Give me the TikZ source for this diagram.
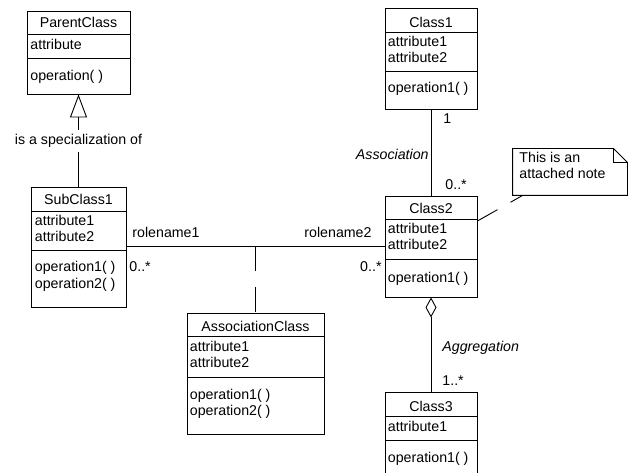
\documentclass[tikz,border=0pt]{standalone}
\usepackage{fontspec}
\setmainfont{Liberation Sans}
\usetikzlibrary{arrows.meta}

\begin{document}
\begin{tikzpicture}[x=1pt,y=-1pt,line width=0.9pt,
  font=\fontsize{14.2}{16}\selectfont,
  classbox/.style={draw,inner sep=0},
  txt/.style={anchor=base west,inner sep=0},
  title/.style={anchor=base,inner sep=0},
  lbl/.style={inner sep=0}]
\useasboundingbox (0,0) rectangle (632,473);
\clip (0,0) rectangle (632,473);

% ParentClass
\node[classbox, minimum width=103, minimum height=83] (parent) at (78.5,52.5) {};
\draw (27,34) -- (130,34);
\draw (27,58) -- (130,58);
\node[title] (parentname) at (78.5,28) {ParentClass};
\node[txt] (parentattr) at (30,50) {attribute};
\node[txt] (parentop) at (30,81) {operation( )};

% SubClass1
\node[classbox, minimum width=95, minimum height=120] (sub) at (78.5,247) {};
\draw (31,211) -- (126,211);
\draw (31,250) -- (126,250);
\node[title] (subname) at (78.5,205) {SubClass1};
\node[txt] (subattra) at (34.5,226) {attribute1};
\node[txt] (subattrb) at (34.5,242) {attribute2};
\node[txt] (subopa) at (34.5,272) {operation1( )};
\node[txt] (subopb) at (34.5,288) {operation2( )};

% Class1
\node[classbox, minimum width=92, minimum height=101] (cone) at (431,58.5) {};
\draw (385,32) -- (477,32);
\draw (385,71) -- (477,71);
\node[title] (onename) at (431,28) {Class1};
\node[txt] (oneattra) at (387.5,47) {attribute1};
\node[txt] (oneattrb) at (387.5,63) {attribute2};
\node[txt] (oneop) at (387.5,93) {operation1( )};

% Class2
\node[classbox, minimum width=92, minimum height=101] (ctwo) at (431,246.5) {};
\draw (385,219) -- (477,219);
\draw (385,259) -- (477,259);
\node[title] (twoname) at (431,214) {Class2};
\node[txt] (twoattra) at (387.5,234) {attribute1};
\node[txt] (twoattrb) at (387.5,250) {attribute2};
\node[txt] (twoop) at (387.5,282) {operation1( )};

% Class3
\node[classbox, minimum width=92, minimum height=88] (cthree) at (431,436) {};
\draw (385,416) -- (477,416);
\draw (385,440) -- (477,440);
\node[title] (threename) at (431,411) {Class3};
\node[txt] (threeattr) at (387.5,431) {attribute1};
\node[txt] (threeop) at (387.5,462) {operation1( )};

% AssociationClass
\node[classbox, minimum width=137, minimum height=121] (aclass) at (255.5,373.5) {};
\draw (187,336) -- (324,336);
\draw (187,377) -- (324,377);
\node[title] (aname) at (255.5,331) {AssociationClass};
\node[txt] (aattra) at (189.5,351) {attribute1};
\node[txt] (aattrb) at (189.5,367) {attribute2};
\node[txt] (aopa) at (189.5,399) {operation1( )};
\node[txt] (aopb) at (189.5,415) {operation2( )};

% note
\node[minimum width=114, minimum height=46, inner sep=0] (note) at (570,172) {};
\draw (note.south west) -- (note.north west) -- ([xshift=-14pt]note.north east)
  -- ([yshift=-14pt]note.north east) -- (note.south east) -- cycle;
\draw ([xshift=-14pt]note.north east) |- ([yshift=-14pt]note.north east);
\node[txt] (notea) at (519,163) {This is an};
\node[txt] (noteb) at (519,179) {attached note};

% generalization
\draw[-{Triangle[open,length=23pt,width=17pt]}] (sub) -- (parent);
\node[fill=white, inner sep=4pt] (spec) at (78.5,141) {is a specialization of};

% association Class1 - Class2
\draw (cone) -- (ctwo);
\node[txt] (onemult) at (443,124) {1};
\node[txt] (twomult) at (445,190) {0..*};
\node[lbl, anchor=base east, font=\fontsize{14.2}{16}\selectfont\itshape] (assocname) at (429,160) {Association};

% association SubClass1 - Class2 with association class
\coordinate (assoc) at (255.5,246);
\draw (sub.east |- assoc) -- (ctwo.west |- assoc);
\draw[dash pattern=on 25pt off 16pt] (assoc) -- (aclass);
\node[txt] (rolea) at (132,237) {rolename1};
\node[lbl, anchor=base east] (roleb) at (372,237) {rolename2};
\node[txt] (multa) at (129,272) {0..*};
\node[lbl, anchor=base east] (multb) at (382,272) {0..*};

% note anchor
\draw[dash pattern=on 23pt off 15pt] (ctwo.east |- 0,221) -- ([xshift=10pt]note.south west);

% aggregation
\draw[{Diamond[open,length=20pt,width=11pt]}-] (ctwo) -- (cthree);
\node[txt, font=\fontsize{14.2}{16}\selectfont\itshape] (aggname) at (442,351) {Aggregation};
\node[txt] (threemult) at (442,385) {1..*};
\end{tikzpicture}
\end{document}
